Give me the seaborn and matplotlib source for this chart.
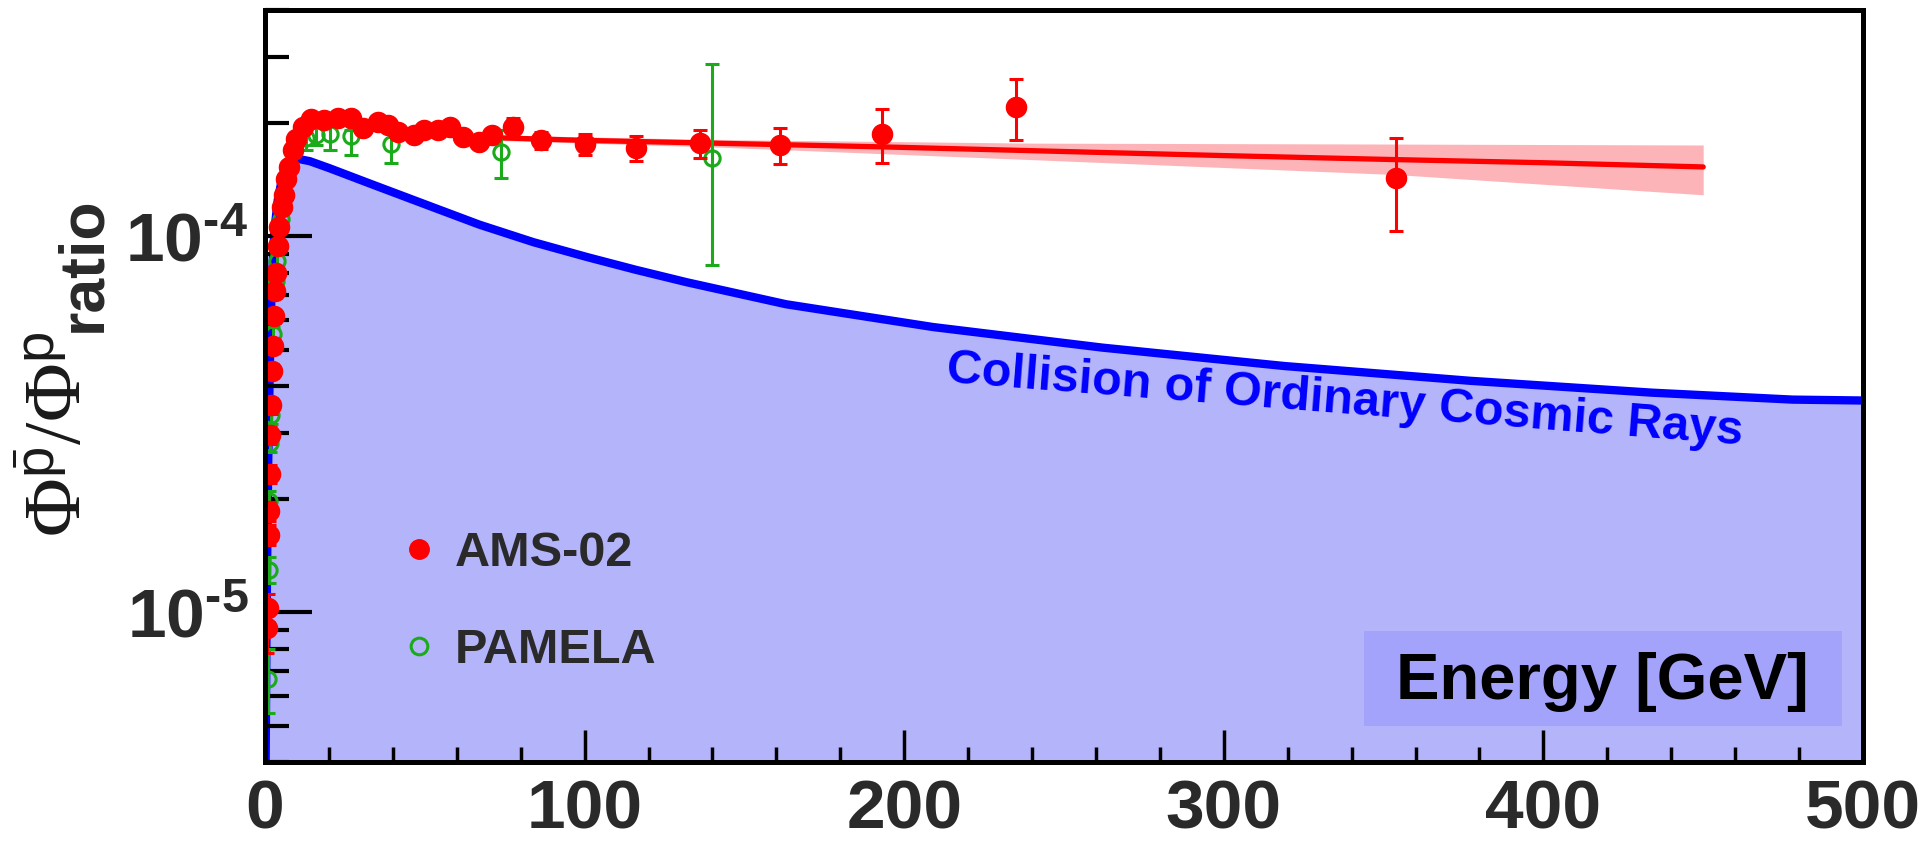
import matplotlib
matplotlib.use("Agg")
import matplotlib.pyplot as plt
import matplotlib.ticker as mticker
from matplotlib.lines import Line2D
from matplotlib.patches import Rectangle
import pandas as pd
import seaborn as sns

# AMS-02 pbar/p ratio (energy in GeV)
ams_E = [0.75, 0.9, 1.1, 1.25, 1.45, 1.65, 1.9, 2.15, 2.4, 2.7,
         3.0, 3.4, 4.0, 4.5, 5.2, 5.8, 6.6, 7.5, 8.8, 9.7,
         11.9, 14.4, 18.4, 22.8, 26.9, 30.6, 35.3, 38.4, 41.6, 46.6,
         49.7, 54, 58, 62, 67, 71, 77.5, 86.5, 100, 116,
         136, 161, 193, 235, 354]
ams_ratio = [9.1e-6, 1.03e-5, 1.61e-5, 1.86e-5, 2.34e-5, 2.96e-5, 3.55e-5, 4.39e-5, 5.11e-5, 6.13e-5,
             7.15e-5, 8.0e-5, 9.4e-5, 1.06e-4, 1.2e-4, 1.29e-4, 1.42e-4, 1.53e-4, 1.70e-4, 1.81e-4,
             1.95e-4, 2.05e-4, 2.04e-4, 2.07e-4, 2.07e-4, 1.94e-4, 2.02e-4, 1.98e-4, 1.90e-4, 1.86e-4,
             1.92e-4, 1.92e-4, 1.95e-4, 1.84e-4, 1.78e-4, 1.86e-4, 1.95e-4, 1.80e-4, 1.76e-4, 1.72e-4,
             1.77e-4, 1.75e-4, 1.87e-4, 2.21e-4, 1.43e-4]
ams_err = [1.3e-6, 0.9e-6, 1.0e-6, 1.1e-6, 1.3e-6, 1.5e-6, 1.7e-6, 2.0e-6, 2.2e-6, 2.5e-6,
           2.8e-6, 3.0e-6, 3.3e-6, 3.5e-6, 3.8e-6, 4.0e-6, 4.2e-6, 4.4e-6, 4.6e-6, 4.8e-6,
           5.0e-6, 5.0e-6, 5.0e-6, 5.0e-6, 5.0e-6, 5.5e-6, 5.5e-6, 5.5e-6, 5.5e-6, 5.5e-6,
           5.5e-6, 5.5e-6, 6.0e-6, 6.0e-6, 6.0e-6, 7.0e-6, 1.15e-5, 9.0e-6, 1.1e-5, 1.3e-5,
           1.5e-5, 1.95e-5, 3.05e-5, 4.05e-5, 3.95e-5]

# PAMELA
pam_E = [0.9, 1.1, 1.3, 1.6, 1.9, 2.6, 3.4, 3.9, 5.0, 12.8, 16.0, 20.3, 26.9, 39.4, 73.8, 140]
pam_ratio = [6.65e-6, 1.3e-5, 1.98e-5, 2.82e-5, 3.34e-5, 5.5e-5, 7.6e-5, 8.6e-5, 1.11e-4,
             1.83e-4, 1.86e-4, 1.87e-4, 1.85e-4, 1.76e-4, 1.68e-4, 1.62e-4]
pam_err_lo = [1.25e-6, 1.0e-6, 1.2e-6, 1.5e-6, 1.8e-6, 2.5e-6, 3.5e-6, 4.0e-6, 5.0e-6,
              1.3e-5, 1.1e-5, 1.7e-5, 2.0e-5, 1.9e-5, 2.5e-5, 7.8e-5]
pam_err_hi = [1.35e-6, 1.0e-6, 1.2e-6, 1.5e-6, 1.8e-6, 2.5e-6, 3.5e-6, 4.0e-6, 5.0e-6,
              1.3e-5, 1.1e-5, 1.7e-5, 0.7e-5, 1.3e-5, 2.4e-5, 1.25e-4]

# secondary production from ordinary cosmic ray collisions
coll_E = [0.2, 0.5, 1.0, 1.5, 2.0, 2.5, 3.0, 4.0, 5.0, 6.5, 8.0, 10.0, 14, 20, 33, 52, 67, 84, 101,
          116, 132, 163, 209, 262, 319, 377, 434, 478, 500]
coll_ratio = [4.0e-6, 1.0e-5, 2.5e-5, 4.5e-5, 7.0e-5, 9.0e-5, 1.05e-4, 1.25e-4, 1.38e-4, 1.5e-4,
              1.57e-4, 1.61e-4, 1.585e-4, 1.52e-4, 1.38e-4, 1.20e-4, 1.075e-4, 9.65e-5, 8.8e-5,
              8.15e-5, 7.55e-5, 6.6e-5, 5.74e-5, 5.06e-5, 4.52e-5, 4.13e-5, 3.84e-5, 3.68e-5, 3.66e-5]

# fit line and its uncertainty band
fit_E = [72, 100, 140, 193, 240, 300, 354, 400, 450]
fit_ratio = [1.83e-4, 1.80e-4, 1.77e-4, 1.73e-4, 1.69e-4, 1.64e-4, 1.60e-4, 1.57e-4, 1.53e-4]
band_E = [72, 140, 240, 354, 450]
band_lo = [1.80e-4, 1.73e-4, 1.60e-4, 1.46e-4, 1.29e-4]
band_hi = [1.86e-4, 1.81e-4, 1.77e-4, 1.76e-4, 1.75e-4]

ytick_vals = [1e-5, 1e-4]
ytick_labels = ['$\\mathbf{10^{\u20105}}$', '$\\mathbf{10^{\u20104}}$']

sns.set_theme(style="ticks")
plt.rcParams['font.family'] = ['Liberation Sans', 'DejaVu Sans']
plt.rcParams['mathtext.fontset'] = 'custom'
plt.rcParams['mathtext.rm'] = 'Liberation Serif'
plt.rcParams['mathtext.it'] = 'Liberation Serif:italic'
plt.rcParams['mathtext.sf'] = 'Liberation Sans'
plt.rcParams['mathtext.bf'] = 'Liberation Sans:bold'

txt_col = '#2a2a2a'
fig = plt.figure(figsize=(19.2, 8.5), dpi=100)
ax = fig.add_axes([265 / 1920, 88 / 850, 1598 / 1920, 752 / 850])
ax.set_facecolor('white')
ax.set_axisbelow(False)

coll = pd.DataFrame({'E': coll_E, 'ratio': coll_ratio})
ax.fill_between(coll['E'], 1e-7, coll['ratio'], color='#b4b4fa', lw=0, zorder=1)
sns.lineplot(data=coll, x='E', y='ratio', color='#0000ff', lw=6, ax=ax, zorder=2,
             estimator=None, sort=False)

ax.fill_between(band_E, band_lo, band_hi, color='#fdb4b8', lw=0, zorder=3)
fit = pd.DataFrame({'E': fit_E, 'ratio': fit_ratio})
sns.lineplot(data=fit, x='E', y='ratio', color='#ff0000', lw=3.8, ax=ax, zorder=4,
             estimator=None, sort=False)

ax.errorbar(pam_E, pam_ratio, yerr=[pam_err_lo, pam_err_hi], fmt='o', mfc='none',
            mec='#1aaa1a', ecolor='#1aaa1a', ms=11, mew=2.2, elinewidth=2.2,
            capsize=5, capthick=2.2, zorder=5)
ax.errorbar(ams_E, ams_ratio, yerr=ams_err, fmt='o', color='#ff0000', ms=14.5,
            elinewidth=2.2, capsize=5, capthick=2.2, zorder=6)

ax.set_yscale('log')
ax.set_xlim(0, 500)
ax.set_ylim(4e-6, 4e-4)
ax.set_xlabel('')
ax.set_ylabel('')

ax.xaxis.set_major_locator(mticker.MultipleLocator(100))
ax.xaxis.set_minor_locator(mticker.MultipleLocator(20))
ax.set_yticks(ytick_vals, labels=ytick_labels)
ax.yaxis.set_minor_locator(mticker.LogLocator(base=10, subs=[2, 3, 4, 5, 6, 7, 8, 9], numticks=30))
ax.yaxis.set_minor_formatter(mticker.NullFormatter())
for lab in ax.get_xticklabels():
    lab.set_fontweight('bold')

ax.tick_params(axis='x', which='major', direction='in', length=23, width=2.5,
               labelsize=50, pad=12, colors='black', labelcolor=txt_col)
ax.tick_params(axis='x', which='minor', direction='in', length=11, width=2.5, colors='black')
ax.tick_params(axis='y', which='major', direction='in', length=34, width=3,
               labelsize=50, pad=12, colors='black', labelcolor=txt_col)
ax.tick_params(axis='y', which='minor', direction='in', length=17, width=3, colors='black')
for s in ax.spines.values():
    s.set_linewidth(3.6)
    s.set_color('black')
    s.set_zorder(10)

# axis titles
fig.text(0.031, 0.368, r'$\Phi^{\bar{\mathsf{p}}}/\Phi^{\mathsf{p}}$', rotation=90,
         fontsize=58, ha='center', va='bottom', color='#1a1a1a')
fig.text(0.059, 0.609, 'ratio', rotation=90, fontsize=45, fontweight='bold',
         ha='right', va='bottom', color=txt_col)

ax.add_patch(Rectangle((0.688, 0.048), 0.299, 0.126, transform=ax.transAxes,
                       facecolor='#a3a3fb', edgecolor='none', zorder=7))
ax.text(0.837, 0.106, 'Energy [GeV]', transform=ax.transAxes, fontsize=47,
        fontweight='bold', ha='center', va='center', color='black', zorder=8)

ax.text(0.676, 0.48, 'Collision of Ordinary Cosmic Rays', transform=ax.transAxes,
        fontsize=35, fontweight='bold', color='#0000ff', rotation=-4.5,
        rotation_mode='anchor', ha='center', va='center', zorder=8)

handles = [Line2D([], [], ls='none', marker='o', color='#ff0000', ms=14),
           Line2D([], [], ls='none', marker='o', mfc='none', mec='#1aaa1a', ms=12, mew=2.2)]
leg = ax.legend(handles, ['AMS-02', 'PAMELA'], loc='upper left', bbox_to_anchor=(0.084, 0.307),
                frameon=False, prop={'weight': 'bold', 'size': 35}, handlelength=0.8,
                handletextpad=0.35, labelspacing=1.06, borderpad=0, borderaxespad=0)
for t in leg.get_texts():
    t.set_color(txt_col)

fig.savefig('out.png', dpi=100)
